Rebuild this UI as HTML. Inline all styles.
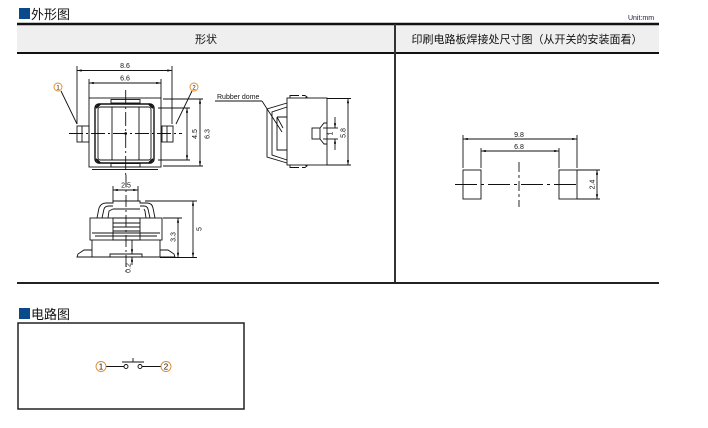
<!DOCTYPE html>
<html><head><meta charset="utf-8">
<style>
html,body{margin:0;padding:0;background:#fff;}
svg{display:block;}
text{font-family:"Liberation Sans","Noto Sans CJK SC",sans-serif;}
</style></head>
<body>
<svg width="708" height="428" viewBox="0 0 708 428" xmlns="http://www.w3.org/2000/svg">
<defs>
<marker id="ar" viewBox="0 0 8 4" refX="8" refY="2" markerWidth="5" markerHeight="2.4" orient="auto-start-reverse" markerUnits="userSpaceOnUse"><path d="M0,0L8,2L0,4z" fill="#111"/></marker>
</defs>
<rect width="708" height="428" fill="#fff"/>

<!-- section 1 title -->
<rect x="19" y="8" width="11" height="11" fill="#0b4a8a"/>
<text x="31" y="19" font-size="13" fill="#111">外形图</text>
<text x="641" y="20" font-size="7" text-anchor="middle" fill="#1a1a3a">Unit:mm</text>

<!-- header table -->
<rect x="17" y="24" width="642" height="29" fill="#efefef"/>
<line x1="17" y1="24" x2="659" y2="24" stroke="#111" stroke-width="2.5"/>
<line x1="17" y1="53" x2="659" y2="53" stroke="#111" stroke-width="2"/>
<line x1="395" y1="24" x2="395" y2="283" stroke="#333" stroke-width="2"/>
<line x1="17" y1="283" x2="659" y2="283" stroke="#222" stroke-width="2"/>
<text x="206" y="43" font-size="11" text-anchor="middle" fill="#111">形状</text>
<text x="527" y="43" font-size="11" text-anchor="middle" fill="#111">印刷电路板焊接处尺寸图（从开关的安装面看）</text>

<g stroke="#111" stroke-width="0.9" fill="none">
<!-- ===== top view ===== -->
<line x1="77" y1="66" x2="77" y2="124"/>
<line x1="172" y1="66" x2="172" y2="124"/>
<line x1="77" y1="70.5" x2="172" y2="70.5" marker-start="url(#ar)" marker-end="url(#ar)"/>
<line x1="89" y1="79" x2="89" y2="98"/>
<line x1="161" y1="79" x2="161" y2="98"/>
<line x1="89" y1="83" x2="161" y2="83" marker-start="url(#ar)" marker-end="url(#ar)"/>
<rect x="89" y="98" width="72" height="69"/>
<rect x="111" y="99.5" width="29" height="3.5"/>
<rect x="111" y="163.5" width="29" height="3.5"/>
<line x1="92" y1="169.5" x2="158" y2="169.5"/>
<rect x="95" y="104" width="59" height="59" rx="4" stroke-width="1.4"/>
<rect x="98" y="107" width="53" height="53" rx="2.5"/>
<path d="M96,108 L100,104 M96,159 L100,163 M153,108 L149,104 M153,159 L149,163" stroke-width="2"/>
<line x1="112" y1="107" x2="112" y2="160"/>
<line x1="139" y1="107" x2="139" y2="160"/>
<rect x="77" y="126" width="12" height="16"/>
<line x1="82" y1="126" x2="82" y2="142"/>
<rect x="162" y="126" width="11" height="16"/>
<line x1="167" y1="126" x2="167" y2="142"/>
<line x1="69" y1="133.5" x2="182" y2="133.5" stroke-dasharray="14,3,2,3"/>
<line x1="125.7" y1="90" x2="125.7" y2="175" stroke-dasharray="14,3,2,3"/>
<circle cx="125.7" cy="133.5" r="0.9" fill="#111"/>
<!-- leaders -->
<line x1="61" y1="91" x2="77" y2="124"/>
<line x1="192" y1="91" x2="176" y2="124"/>
<!-- 4.5 and 6.3 -->
<line x1="158" y1="108" x2="190" y2="108"/>
<line x1="158" y1="160" x2="190" y2="160"/>
<line x1="187" y1="108" x2="187" y2="160" marker-start="url(#ar)" marker-end="url(#ar)"/>
<line x1="163" y1="99" x2="203" y2="99"/>
<line x1="163" y1="166" x2="203" y2="166"/>
<line x1="200" y1="99" x2="200" y2="166" marker-start="url(#ar)" marker-end="url(#ar)"/>

<!-- ===== side view ===== -->
<line x1="215" y1="101" x2="262" y2="101"/>
<line x1="262" y1="101" x2="282" y2="132"/>
<rect x="287" y="98" width="40" height="67"/>
<path d="M287,103 L267,109 L267,157 L287,163"/>
<path d="M287,107 L272,112 L272,155 L287,160"/>
<path d="M277,117 L287,117 M277,117 L277,150 L287,150 M277,117 L283,128"/>
<path d="M290,98 L290,95.5 L299,95.5 M302,95.5 L305,95.5 L307,97 L305,98"/>
<path d="M290,165 L290,167.5 L299,167.5 M302,167.5 L305,167.5 L307,166 L305,165"/>
<rect x="312" y="128" width="8" height="11"/>
<path d="M320,128 L324,123 L327,123 M320,139 L324,144 L327,144"/>
<line x1="323" y1="128" x2="338" y2="128"/>
<line x1="323" y1="139" x2="338" y2="139"/>
<line x1="335" y1="117" x2="335" y2="128" marker-end="url(#ar)"/>
<line x1="335" y1="150" x2="335" y2="139" marker-end="url(#ar)"/>
<line x1="327" y1="98.5" x2="351" y2="98.5"/>
<line x1="327" y1="165" x2="351" y2="165"/>
<line x1="348" y1="98.5" x2="348" y2="165" marker-start="url(#ar)" marker-end="url(#ar)"/>

<!-- ===== front view ===== -->
<line x1="113" y1="186" x2="113" y2="201"/>
<line x1="138" y1="186" x2="138" y2="201"/>
<line x1="113" y1="190" x2="138" y2="190" marker-start="url(#ar)" marker-end="url(#ar)"/>
<path d="M97,218 L99,208 Q101,203 106,203 L113,203 L113,201 L140,201 L140,203 L147,203 Q152,203 153,208 L155,218"/>
<path d="M102,218 L104,209 Q105,206 109,206 L113,206 M140,206 L144,206 Q147,206 148,209 L150,218"/>
<path d="M108,218 L109,211 L113,209 M144,209 L145,211 L146,218"/>
<line x1="113" y1="209" x2="140" y2="209"/>
<rect x="90" y="218" width="72" height="22"/>
<rect x="113" y="218" width="27" height="22"/>
<line x1="113" y1="223" x2="140" y2="223"/>
<line x1="113" y1="227" x2="140" y2="227"/>
<line x1="113" y1="231" x2="140" y2="231"/>
<line x1="92" y1="233" x2="160" y2="233"/>
<line x1="95" y1="236" x2="157" y2="236"/>
<path d="M92,240 L92,257 L160,257 L160,240"/>
<path d="M110,257 L110,254 L142,254 L142,257"/>
<path d="M92,250 L84,250 L78,254 L77,257 L92,257"/>
<path d="M160,250 L168,250 L174,254 L175,257 L160,257"/>
<line x1="126" y1="175" x2="126" y2="275" stroke-dasharray="12,3,2,3"/>
<line x1="145" y1="201" x2="197" y2="201"/>
<line x1="163" y1="218" x2="182" y2="218"/>
<line x1="160" y1="257.5" x2="197" y2="257.5"/>
<line x1="178" y1="218" x2="178" y2="257.5" marker-start="url(#ar)" marker-end="url(#ar)"/>
<line x1="193" y1="201" x2="193" y2="257.5" marker-start="url(#ar)" marker-end="url(#ar)"/>
<line x1="132" y1="240" x2="132" y2="254" marker-end="url(#ar)"/>
<line x1="132" y1="265" x2="132" y2="257" marker-end="url(#ar)"/>

<!-- ===== PCB pattern ===== -->
<line x1="463" y1="135" x2="463" y2="168"/>
<line x1="577" y1="135" x2="577" y2="168"/>
<line x1="463" y1="139" x2="577" y2="139" marker-start="url(#ar)" marker-end="url(#ar)"/>
<line x1="481" y1="148" x2="481" y2="168"/>
<line x1="559" y1="148" x2="559" y2="168"/>
<line x1="481" y1="151" x2="559" y2="151" marker-start="url(#ar)" marker-end="url(#ar)"/>
<rect x="463" y="170" width="18" height="29"/>
<rect x="559" y="170" width="18" height="29"/>
<line x1="455" y1="184.5" x2="580" y2="184.5" stroke-dasharray="22,4,3,4"/>
<line x1="519" y1="162" x2="519" y2="207" stroke-dasharray="10,3,3,3"/>
<line x1="577" y1="170" x2="600" y2="170"/>
<line x1="577" y1="199" x2="600" y2="199"/>
<line x1="597" y1="170" x2="597" y2="199" marker-start="url(#ar)" marker-end="url(#ar)"/>

<!-- ===== circuit ===== -->
<rect x="18" y="323" width="226" height="86" stroke="#222" stroke-width="1.5"/>
<line x1="106" y1="366.5" x2="124" y2="366.5"/>
<circle cx="126" cy="366.5" r="2"/>
<circle cx="140" cy="366.5" r="2"/>
<line x1="142" y1="366.5" x2="161" y2="366.5"/>
<line x1="122" y1="362" x2="144" y2="362"/>
<line x1="133" y1="358" x2="133" y2="362"/>
<circle cx="101" cy="366.5" r="5" stroke="#e08a2a"/>
<circle cx="166" cy="366.5" r="5" stroke="#e08a2a"/>
<circle cx="58" cy="87" r="4" stroke="#e08a2a"/>
<circle cx="194" cy="87" r="4" stroke="#e08a2a"/>
</g>

<g font-size="7" fill="#111" text-anchor="middle">
<text x="125" y="68">8.6</text>
<text x="125" y="80.5">6.6</text>
<text x="58" y="89.5" font-size="6">1</text>
<text x="194" y="89.5" font-size="6">2</text>
<text transform="translate(194.5,134) rotate(-90)" y="2.5">4.5</text>
<text transform="translate(207,134) rotate(-90)" y="2.5">6.3</text>
<text x="217" y="99" text-anchor="start">Rubber dome</text>
<text transform="translate(330,133.5) rotate(-90)" y="2.5">1</text>
<text transform="translate(343,133) rotate(-90)" y="2.5">5.8</text>
<text x="126" y="187.5">2.5</text>
<text transform="translate(173,237) rotate(-90)" y="2.5">3.3</text>
<text transform="translate(199,229) rotate(-90)" y="2.5">5</text>
<text transform="translate(128,268) rotate(-90)" y="2.5">0.2</text>
<text x="519" y="137">9.8</text>
<text x="519" y="149">6.8</text>
<text transform="translate(592,184.5) rotate(-90)" y="2.5">2.4</text>
<text x="101" y="369.5" font-size="8">1</text>
<text x="166" y="369.5" font-size="8">2</text>
</g>

<!-- section 2 title -->
<rect x="19" y="308" width="11" height="11" fill="#0b4a8a"/>
<text x="31" y="319" font-size="13" fill="#111">电路图</text>
</svg>
</body></html>
